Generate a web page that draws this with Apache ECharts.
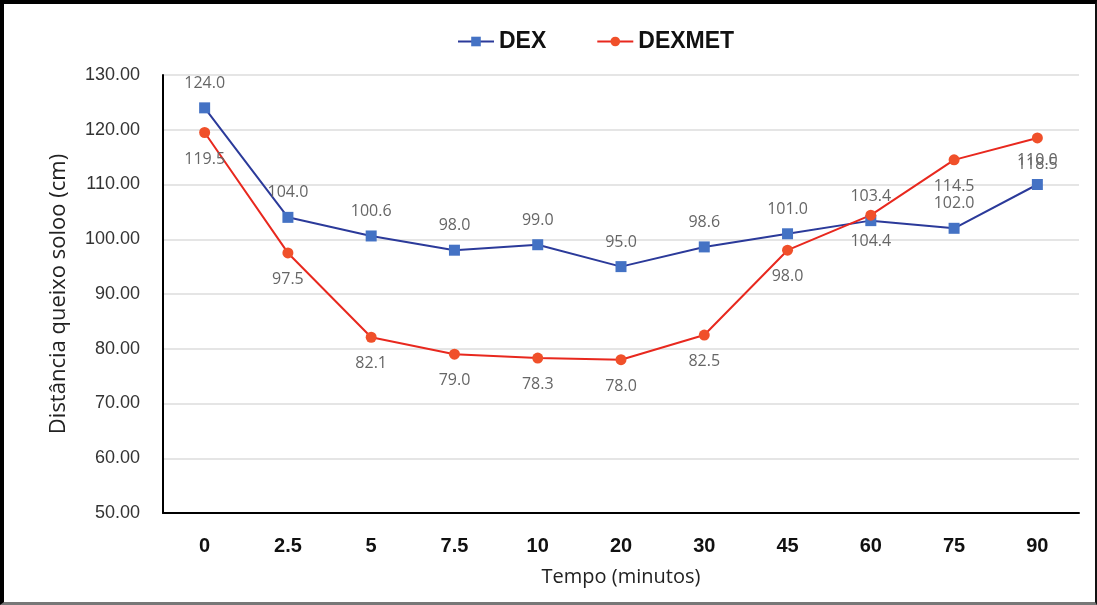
<!DOCTYPE html>
<html>
<head>
<meta charset="utf-8">
<script src="https://cdn.jsdelivr.net/npm/echarts@6/dist/echarts.min.js"></script>
<style>
  html, body { margin: 0; padding: 0; background: #fff; }
  #frame {
    position: absolute; left: 0; top: 0; width: 1097px; height: 605px;
    box-sizing: border-box; border-left: 4px solid #000; border-top: 4px solid #000;
    border-right: 2px solid #111; border-bottom: 3px solid #777;
  }
  #chart { position: absolute; left: 0; top: 0; width: 1097px; height: 605px; }
</style>
</head>
<body>
<div id="chart"></div>
<div id="frame"></div>
<script>
// Chin-to-floor distance over time for the two treatment groups
const tempo = ['0', '2.5', '5', '7.5', '10', '20', '30', '45', '60', '75', '90'];
const dex = [124.0, 104.0, 100.6, 98.0, 99.0, 95.0, 98.6, 101.0, 103.4, 102.0, 110.0];
const dexmet = [119.5, 97.5, 82.1, 79.0, 78.3, 78.0, 82.5, 98.0, 104.4, 114.5, 118.5];
const yMin = 50, yMax = 130, yStep = 10;

const boldFont = '"Liberation Sans", Arial, sans-serif';
const labelFont = '"Open Sans", "DejaVu Sans", sans-serif';

const chart = echarts.init(document.getElementById('chart'));
chart.setOption({
  animation: false,
  backgroundColor: '#fff',
  legend: {
    top: 25,
    left: 452,
    itemGap: 50,
    itemWidth: 36,
    itemHeight: 12,
    textStyle: { fontFamily: boldFont, fontWeight: 'bold', fontSize: 23, color: '#111' },
    data: ['DEX', 'DEXMET']
  },
  grid: { left: 163, right: 18, top: 75, bottom: 92 },
  xAxis: {
    type: 'category',
    data: tempo,
    name: 'Tempo (minutos)',
    nameLocation: 'middle',
    nameGap: 54,
    nameTextStyle: { fontFamily: labelFont, fontSize: 20, color: '#222' },
    axisLine: { lineStyle: { color: '#000', width: 2 } },
    axisTick: { show: false },
    axisLabel: { margin: 23, fontFamily: boldFont, fontWeight: 'bold', fontSize: 20, color: '#111' }
  },
  yAxis: {
    type: 'value',
    min: yMin, max: yMax, interval: yStep,
    name: 'Distância queixo soloo (cm)',
    nameLocation: 'middle',
    nameGap: 93,
    nameTextStyle: { fontFamily: labelFont, fontSize: 22, color: '#222' },
    axisLine: { show: true, lineStyle: { color: '#000', width: 2 } },
    axisTick: { show: false },
    splitLine: { lineStyle: { color: '#dcdcdc', width: 1.5 } },
    axisLabel: {
      margin: 23, fontFamily: boldFont, fontSize: 18, color: '#333',
      formatter: v => v.toFixed(2)
    }
  },
  series: [
    {
      name: 'DEX', type: 'line', data: dex,
      symbol: 'rect', symbolSize: 11,
      lineStyle: { color: '#2B3A9A', width: 2 },
      itemStyle: { color: '#4472C4' },
      label: {
        show: true, position: 'top', distance: 11,
        fontFamily: labelFont, fontSize: 16, color: '#666',
        formatter: p => p.value.toFixed(1)
      }
    },
    {
      name: 'DEXMET', type: 'line', data: dexmet,
      symbol: 'circle', symbolSize: 11,
      lineStyle: { color: '#E8281E', width: 2 },
      itemStyle: { color: '#F0502A' },
      label: {
        show: true, position: 'bottom', distance: 13,
        fontFamily: labelFont, fontSize: 16, color: '#666',
        formatter: p => p.value.toFixed(1)
      }
    }
  ]
});
</script>
</body>
</html>
